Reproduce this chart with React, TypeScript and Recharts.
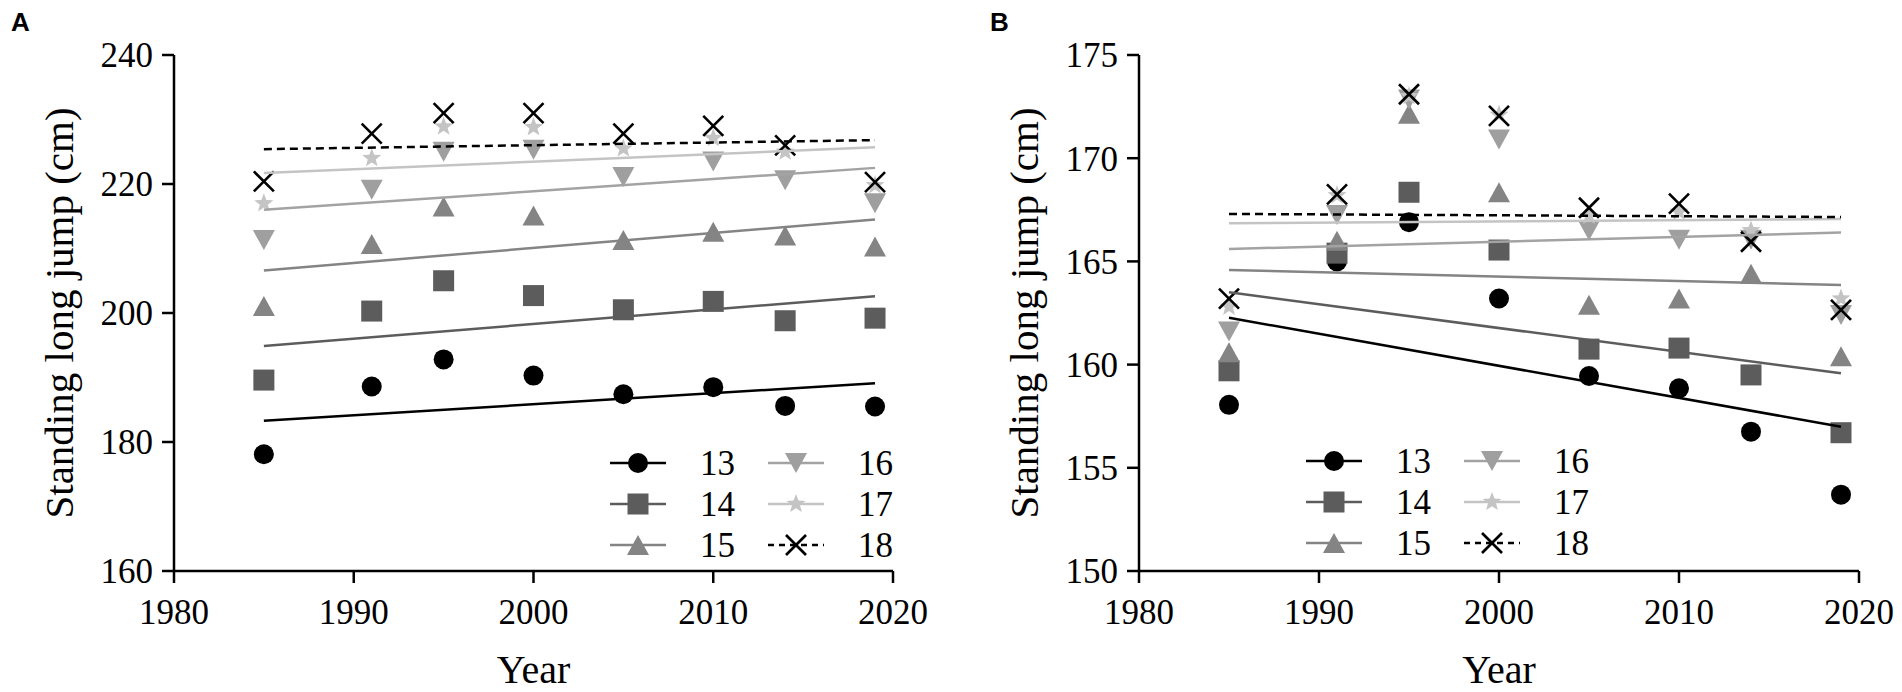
import React from "react";
import { Legend, Scatter, ScatterChart, XAxis, YAxis } from "recharts";

const years = [1985, 1991, 1995, 2000, 2005, 2010, 2014, 2019];
const fitYears = [1985, 2019];
const ages = ["13", "14", "15", "16", "17", "18"];
const xTicks = [1980, 1990, 2000, 2010, 2020];

// panel A, one array per age group
const a13 = [178.1, 188.6, 192.8, 190.3, 187.4, 188.5, 185.6, 185.5];
const a14 = [189.6, 200.3, 205.0, 202.7, 200.5, 201.8, 198.8, 199.2];
const a15 = [201.1, 210.7, 216.5, 215.1, 211.3, 212.6, 212.0, 210.3];
const a16 = [211.3, 219.1, 225.0, 225.3, 221.1, 223.5, 220.6, 217.0];
const a17 = [217.0, 224.0, 228.9, 228.8, 225.5, 227.1, 225.0, 219.8];
const a18 = [220.4, 227.8, 231.0, 231.0, 227.8, 229.0, 226.0, 220.3];
// fitted lines, value at 1985 and 2019
const aFit13 = [183.3, 189.1];
const aFit14 = [194.9, 202.6];
const aFit15 = [206.6, 214.5];
const aFit16 = [216.0, 222.5];
const aFit17 = [221.7, 225.7];
const aFit18 = [225.4, 226.8];
const aTicks = [160, 180, 200, 220, 240];

// panel B
const b13 = [158.05, 165.0, 166.9, 163.2, 159.45, 158.85, 156.75, 153.7];
const b14 = [159.7, 165.4, 168.35, 165.55, 160.75, 160.8, 159.5, 156.7];
const b15 = [160.6, 166.0, 172.15, 168.35, 162.9, 163.2, 164.4, 160.4];
const b16 = [161.6, 167.25, 172.85, 170.9, 166.5, 166.05, 166.05, 162.4];
const b17 = [162.8, 168.2, 173.0, 172.1, 167.2, 167.4, 166.5, 163.2];
const b18 = [163.2, 168.25, 173.1, 172.05, 167.6, 167.8, 165.95, 162.65];
const bFit13 = [162.27, 156.99];
const bFit14 = [163.5, 159.58];
const bFit15 = [164.58, 163.86];
const bFit16 = [165.6, 166.4];
const bFit17 = [166.85, 167.05];
const bFit18 = [167.3, 167.15];
const bTicks = [150, 155, 160, 165, 170, 175];

const FONT = "Liberation Serif";

const looks = [
  { kind: "circle", fill: "#000000", line: "#000000", dash: undefined },
  { kind: "square", fill: "#5c5c5c", line: "#5c5c5c", dash: undefined },
  { kind: "up", fill: "#848484", line: "#848484", dash: undefined },
  { kind: "down", fill: "#9f9f9f", line: "#a3a3a3", dash: undefined },
  { kind: "star", fill: "#c4c4c4", line: "#c4c4c4", dash: undefined },
  { kind: "cross", fill: "#000000", line: "#000000", dash: "8 5" },
];

function Marker({ kind, cx, cy, fill }: { kind: string; cx: number; cy: number; fill: string }) {
  if (kind === "circle") return <circle cx={cx} cy={cy} r={10} fill={fill} />;
  if (kind === "square") return <rect x={cx - 10.5} y={cy - 10.5} width={21} height={21} fill={fill} />;
  if (kind === "up")
    return <polygon points={`${cx},${cy - 10} ${cx + 11},${cy + 10} ${cx - 11},${cy + 10}`} fill={fill} />;
  if (kind === "down")
    return <polygon points={`${cx - 11},${cy - 10} ${cx + 11},${cy - 10} ${cx},${cy + 10}`} fill={fill} />;
  if (kind === "star") {
    const pts: string[] = [];
    for (let i = 0; i < 10; i++) {
      const r = i % 2 === 0 ? 10 : 4.2;
      const a = -Math.PI / 2 + (i * Math.PI) / 5;
      pts.push(`${cx + r * Math.cos(a)},${cy + r * Math.sin(a)}`);
    }
    return <polygon points={pts.join(" ")} fill={fill} />;
  }
  return (
    <g stroke={fill} strokeWidth={2.6}>
      <line x1={cx - 10} y1={cy - 10} x2={cx + 10} y2={cy + 10} />
      <line x1={cx - 10} y1={cy + 10} x2={cx + 10} y2={cy - 10} />
    </g>
  );
}

function LegendBox() {
  return (
    <svg width={300} height={130} style={{ display: "block" }}>
      {ages.map((age, i) => {
        const look = looks[i];
        const x0 = 10 + Math.floor(i / 3) * 158;
        const y = 23 + (i % 3) * 41;
        return (
          <g key={age}>
            <line x1={x0} x2={x0 + 56} y1={y} y2={y} stroke={look.line} strokeWidth={2.5}
                  strokeDasharray={look.dash ? "6 5" : undefined} />
            <Marker kind={look.kind} cx={x0 + 28} cy={y} fill={look.fill} />
            <text x={x0 + 90} y={y + 12} fontSize={35} fontFamily={FONT} fill="#000">{age}</text>
          </g>
        );
      })}
    </svg>
  );
}

const toPoints = (xs: number[], ys: number[]) => xs.map((x, i) => ({ x, y: ys[i] }));

type PanelProps = {
  series: number[][];
  fits: number[][];
  domain: [number, number];
  ticks: number[];
  left: number;
  right: number;
  legendLeft: number;
  legendTop: number;
};

function Panel({ series, fits, domain, ticks, left, right, legendLeft, legendTop }: PanelProps) {
  const width = 951;
  const plotLeft = left + 100;
  const plotRight = width - right;
  return (
    <ScatterChart width={width} height={692} margin={{ top: 55, right, bottom: 61, left }}>
      <XAxis type="number" dataKey="x" domain={[1980, 2020]} ticks={xTicks} interval={0} height={60}
             tickSize={12} tickMargin={16} axisLine={{ stroke: "#000", strokeWidth: 2.5 }}
             tickLine={{ stroke: "#000", strokeWidth: 2.5 }}
             tick={{ fill: "#000", fontSize: 35, fontFamily: FONT }}
             label={{
               content: () => (
                 <text x={(plotLeft + plotRight) / 2} y={683} textAnchor="middle" fontSize={40}
                       fontFamily={FONT} fill="#000">Year</text>
               ),
             }} />
      <YAxis type="number" dataKey="y" domain={domain} ticks={ticks} interval={0} width={100}
             tickSize={12} tickMargin={9} axisLine={{ stroke: "#000", strokeWidth: 2.5 }}
             tickLine={{ stroke: "#000", strokeWidth: 2.5 }}
             tick={{ fill: "#000", fontSize: 35, fontFamily: FONT }}
             label={{
               content: () => (
                 <text transform={`translate(${plotLeft - 101},313) rotate(-90)`} textAnchor="middle"
                       fontSize={41} fontFamily={FONT} fill="#000">Standing long jump (cm)</text>
               ),
             }} />
      {series.map((vals, i) => (
        <Scatter key={"p" + i} name={ages[i]} data={toPoints(years, vals)} isAnimationActive={false}
                 shape={(p: any) => <Marker kind={looks[i].kind} cx={p.cx} cy={p.cy} fill={looks[i].fill} />} />
      ))}
      {fits.map((vals, i) => (
        <Scatter key={"f" + i} data={toPoints(fitYears, vals)} isAnimationActive={false} legendType="none"
                 line={{ stroke: looks[i].line, strokeWidth: 2.5, strokeDasharray: looks[i].dash }}
                 shape={() => <g />} />
      ))}
      <Legend layout="horizontal" verticalAlign="middle" align="center" content={() => <LegendBox />}
              wrapperStyle={{ left: legendLeft, top: legendTop, width: 300, height: 130 }} />
    </ScatterChart>
  );
}

export default function App() {
  return (
    <div style={{ position: "relative", display: "flex", width: 1902, height: 692, background: "#fff",
                  fontFamily: FONT }}>
      <style>{'body{margin:0;overflow:hidden} svg text{font-family:"Liberation Serif",serif}'}</style>
      <Panel series={[a13, a14, a15, a16, a17, a18]} fits={[aFit13, aFit14, aFit15, aFit16, aFit17, aFit18]}
             domain={[160, 240]} ticks={aTicks} left={74} right={58} legendLeft={600} legendTop={440} />
      <Panel series={[b13, b14, b15, b16, b17, b18]} fits={[bFit13, bFit14, bFit15, bFit16, bFit17, bFit18]}
             domain={[150, 175]} ticks={bTicks} left={88} right={43} legendLeft={345} legendTop={438} />
      <div style={{ position: "absolute", left: 11, top: 9, fontFamily: "Liberation Sans", fontWeight: 700,
                    fontSize: 26, lineHeight: "26px" }}>A</div>
      <div style={{ position: "absolute", left: 990, top: 9, fontFamily: "Liberation Sans", fontWeight: 700,
                    fontSize: 26, lineHeight: "26px" }}>B</div>
    </div>
  );
}
